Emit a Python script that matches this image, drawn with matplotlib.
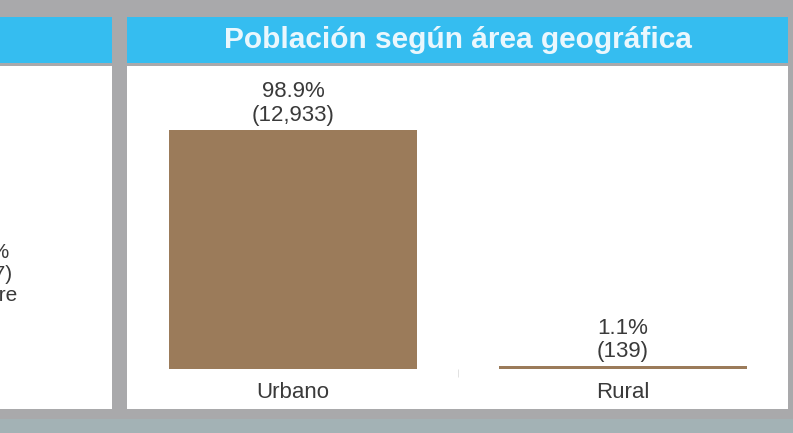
import matplotlib.pyplot as plt
from matplotlib.patches import Rectangle

plt.rcParams['font.family'] = ['Liberation Sans', 'DejaVu Sans']

# data
categories = ['Urbano', 'Rural']
percent = [98.9, 1.1]
counts = [12933, 139]
title = 'Población según área geográfica'

# cropped neighbour panel (only its right edge is visible)
left_label = '49.8%\n(6,507)\nHombre'

W, H = 793, 433
BG = '#a9a9ab'
BLUE = '#35bdf0'
BAR = '#9b7b5a'
TXT = '#3a3a3a'

fig = plt.figure(figsize=(W / 100, H / 100), dpi=100, facecolor=BG)


def box(x0, y0, x1, y1, color):
    # pixel box (y from top) -> figure fraction
    fig.add_artist(Rectangle((x0 / W, 1 - y1 / H), (x1 - x0) / W, (y1 - y0) / H,
                             transform=fig.transFigure, color=color, lw=0, zorder=0))


# bottom bluish strip
box(0, 419, W, H, '#a3b2b5')
# left (cropped) panel
box(0, 17, 112, 63, BLUE)
box(0, 66, 112, 409, 'white')
# right panel
box(127, 17, 788, 63, BLUE)
box(127, 66, 788, 409, 'white')

fig.text((127 + 788) / 2 / W, 1 - 40 / H, title, ha='center', va='center',
         fontsize=21.5, fontweight='bold', color='#eaf7fd')

fig.text(-20 / W, 1 - 274 / H, left_label, ha='center', va='center',
         fontsize=15, color=TXT, linespacing=1.15)

ax = fig.add_axes([128 / W, 1 - 369 / H, 660 / W, (369 - 67) / H])
ax.patch.set_alpha(0)
x = range(len(categories))
ax.bar(x, percent, width=0.75, color=BAR)
for xi, p, c in zip(x, percent, counts):
    ax.annotate('%.1f%%\n(%s)' % (p, format(c, ',')), xy=(xi, p), xytext=(0, 3),
                textcoords='offset points', ha='center', va='bottom',
                fontsize=16, color=TXT, linespacing=1.15)
ax.set_xlim(-0.5, 1.5)
ax.set_ylim(0, 125)
ax.set_xticks(list(x))
ax.set_xticklabels(categories, fontsize=16, color=TXT)
ax.tick_params(axis='x', length=0, pad=9)
ax.set_xticks([0.5], minor=True)
ax.tick_params(axis='x', which='minor', length=6, color='#dddddd')
ax.set_yticks([])
for s in ax.spines.values():
    s.set_visible(False)

fig.savefig('out.png', dpi=100, facecolor=BG)
